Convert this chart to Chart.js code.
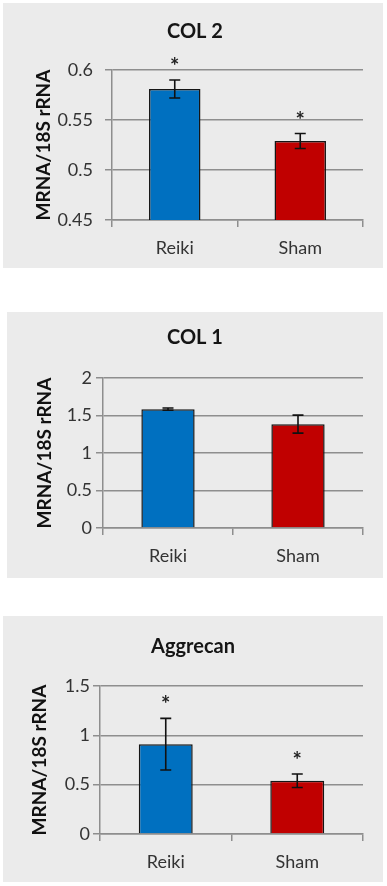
<!DOCTYPE html>
<html>
<head>
<meta charset="utf-8">
<script src="https://cdn.jsdelivr.net/npm/chart.js@4.4.1/dist/chart.umd.min.js"></script>
<style>
  html, body { margin: 0; padding: 0; background: #ffffff; }
  body { position: relative; width: 387px; height: 886px; overflow: hidden; }
  .panel { position: absolute; background: #ebebeb; }
  .panel canvas { display: block; }
</style>
</head>
<body>
<div class="panel" style="left:3px;top:3px;width:380px;height:265px"><canvas id="col2" width="380" height="265"></canvas></div>
<div class="panel" style="left:7px;top:312px;width:376px;height:266px"><canvas id="col1" width="376" height="266"></canvas></div>
<div class="panel" style="left:3px;top:616px;width:380px;height:266px"><canvas id="aggrecan" width="380" height="266"></canvas></div>
<script>
// Groups and bar fills
const categories = ['Reiki', 'Sham'];
const barColors = ['#0070c0', '#c00000'];
const axisTitle = 'MRNA/18S rRNA';

// COL 2 expression (mean, standard error, significance)
const col2Means = [0.581, 0.529];
const col2Errors = [0.009, 0.0075];
const col2Significant = [true, true];
const col2Ticks = [0.45, 0.6, 0.05];   // min, max, step

// COL 1 expression
const col1Means = [1.585, 1.385];
const col1Errors = [0.015, 0.12];
const col1Significant = [false, false];
const col1Ticks = [0, 2, 0.5];

// Aggrecan expression
const aggrecanMeans = [0.91, 0.54];
const aggrecanErrors = [0.262, 0.068];
const aggrecanSignificant = [true, true];
const aggrecanTicks = [0, 1.5, 0.5];

const FONT = 'Lato, "Liberation Sans", Arial, sans-serif';
const GRID = '#8e8e8e';
const TEXT = '#333333';

// Error bars with caps, plus an asterisk over significant groups
const errorBarPlugin = {
  id: 'errorBars',
  afterDatasetsDraw(chart, args, opts) {
    const { ctx } = chart;
    const y = chart.scales.y;
    const meta = chart.getDatasetMeta(0);
    ctx.save();
    ctx.strokeStyle = '#111111';
    ctx.lineWidth = 1.6;
    opts.means.forEach((m, i) => {
      const x = meta.data[i].x;
      const top = y.getPixelForValue(m + opts.errors[i]);
      const bot = y.getPixelForValue(m - opts.errors[i]);
      ctx.beginPath();
      ctx.moveTo(x, top); ctx.lineTo(x, bot);
      ctx.moveTo(x - 5.5, top); ctx.lineTo(x + 5.5, top);
      ctx.moveTo(x - 5.5, bot); ctx.lineTo(x + 5.5, bot);
      ctx.stroke();
      if (opts.significant[i]) {
        ctx.fillStyle = '#222222';
        ctx.font = 'bold 22px ' + FONT;
        ctx.textAlign = 'center';
        ctx.textBaseline = 'alphabetic';
        ctx.fillText('*', x, top - 19 + 13);
      }
    });
    ctx.restore();
  }
};

// Panel heading drawn centred over the panel
const headingPlugin = {
  id: 'heading',
  afterDraw(chart, args, opts) {
    const { ctx } = chart;
    ctx.save();
    ctx.fillStyle = '#151515';
    ctx.font = 'bold ' + opts.size + 'px ' + FONT;
    ctx.textAlign = 'center';
    ctx.textBaseline = 'middle';
    ctx.fillText(opts.text, opts.x, opts.y);
    ctx.restore();
  }
};

// Tick values shown without trailing zeros (0.6, 1, 2)
const plainNumber = v => String(Number(v.toFixed(3)));

function buildPanel(id, heading, means, errors, significant, ticks, layout) {
  new Chart(document.getElementById(id), {
    type: 'bar',
    data: {
      labels: categories,
      datasets: [{
        data: means,
        backgroundColor: barColors,
        borderColor: '#151515',
        borderWidth: 1.5,
        barPercentage: 0.41,
        categoryPercentage: 1
      }]
    },
    options: {
      responsive: false,
      animation: false,
      devicePixelRatio: 1,
      layout: { padding: { left: 0, right: layout.right, top: layout.top, bottom: 0 } },
      plugins: {
        legend: { display: false },
        tooltip: { enabled: false },
        title: { display: false },
        errorBars: { means, errors, significant },
        heading: { text: heading, x: layout.headX, y: layout.headY, size: layout.headSize }
      },
      scales: {
        x: {
          offset: true,
          grid: { offset: true, drawOnChartArea: false, drawTicks: true, tickLength: 7, color: GRID, lineWidth: 1.5 },
          border: { color: GRID, width: 1.5 },
          ticks: { color: TEXT, padding: 10, font: { family: FONT, size: 18 } },
          afterFit(scale) { scale.height = layout.xHeight; }
        },
        y: {
          min: ticks[0],
          max: ticks[1],
          ticks: {
            stepSize: ticks[2], color: TEXT, padding: layout.tickPad,
            font: { family: FONT, size: 18 },
            callback: v => plainNumber(v)
          },
          grid: { color: GRID, lineWidth: 1.5, tickLength: 7 },
          border: { color: GRID, width: 1.5 },
          title: {
            display: true,
            text: axisTitle,
            color: '#111111',
            font: { family: FONT, size: 19, weight: 'bold' },
            padding: { top: layout.titlePad, bottom: 0 }
          },
          afterFit(scale) { scale.width = layout.left; }
        }
      }
    },
    plugins: [errorBarPlugin, headingPlugin]
  });
}

buildPanel('col2', 'COL 2', col2Means, col2Errors, col2Significant, col2Ticks,
  { left: 109, right: 20, top: 67, xHeight: 48, tickPad: 12, titlePad: 29, headX: 192, headY: 29, headSize: 20 });
buildPanel('col1', 'COL 1', col1Means, col1Errors, col1Significant, col1Ticks,
  { left: 96, right: 20, top: 66, xHeight: 50, tickPad: 4, titlePad: 26, headX: 188, headY: 26, headSize: 20 });
buildPanel('aggrecan', 'Aggrecan', aggrecanMeans, aggrecanErrors, aggrecanSignificant, aggrecanTicks,
  { left: 97, right: 20, top: 70, xHeight: 48, tickPad: 3, titlePad: 25, headX: 190, headY: 31, headSize: 20 });
</script>
</body>
</html>
